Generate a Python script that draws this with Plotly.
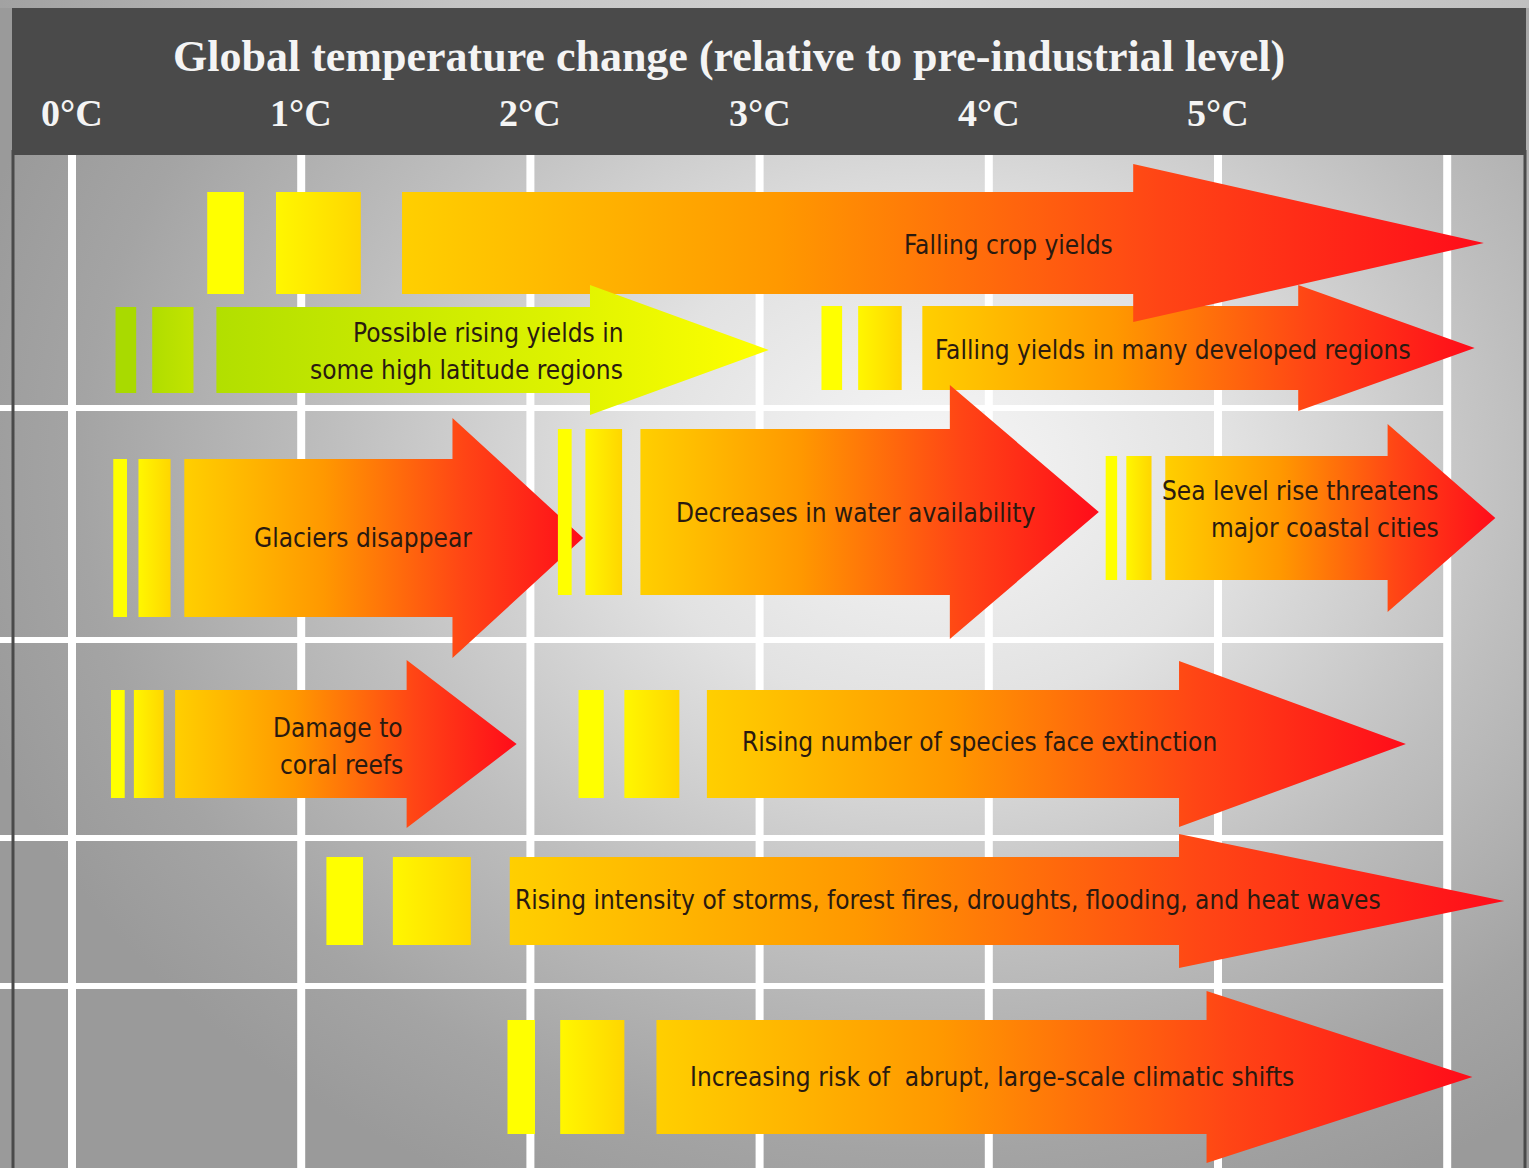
import plotly.graph_objects as go

# Horizontal scale: degrees of warming; 229.2 px per degree, 0 °C at x=72 px
PX_PER_DEG = 229.2
ZERO_PX = 72
W, H = 1529, 1168


def px2t(px):
    return (px - ZERO_PX) / PX_PER_DEG


# ---------------- data ----------------
title = "Global temperature change (relative to pre-industrial level)"
tick_temps = [0, 1, 2, 3, 4, 5]
tick_labels = ["0°C", "1°C", "2°C", "3°C", "4°C", "5°C"]
grid_temps = [0, 1, 2, 3, 4, 5, 6]

impacts = [
    "Falling crop yields",
    "Possible rising yields in<br>some high latitude regions",
    "Falling yields in many developed regions",
    "Glaciers disappear",
    "Decreases in water availability",
    "Sea level rise threatens<br>major coastal cities",
    "Damage to<br>coral reefs",
    "Rising number of species face extinction",
    "Rising intensity of storms, forest fires, droughts, flooding, and heat waves",
    "Increasing risk of  abrupt, large-scale climatic shifts",
]
# onset markers (°C): thin bar and wide bar before each arrow
mark1_start = [0.59, 0.19, 3.27, 0.18, 2.12, 4.51, 0.17, 2.21, 1.11, 1.90]
mark1_end = [0.75, 0.28, 3.36, 0.24, 2.18, 4.56, 0.23, 2.32, 1.27, 2.02]
mark2_start = [0.89, 0.35, 3.43, 0.29, 2.24, 4.60, 0.27, 2.41, 1.40, 2.13]
mark2_end = [1.26, 0.53, 3.62, 0.43, 2.40, 4.71, 0.40, 2.65, 1.74, 2.41]
# arrow extents (°C)
arrow_start = [1.44, 0.63, 3.71, 0.49, 2.48, 4.77, 0.45, 2.77, 1.91, 2.55]
head_start = [4.63, 2.26, 5.35, 1.66, 3.83, 5.74, 1.46, 4.83, 4.83, 4.95]
arrow_tip = [6.16, 3.04, 6.12, 2.23, 4.48, 6.21, 1.94, 5.82, 6.25, 6.11]
positive = [False, True, False, False, False, False, False, False, False, False]

# ---------------- layout of the rows (pixels) ----------------
row_center = [243, 350, 348, 538, 512, 518, 744, 744, 901, 1077]
body_half = [51, 43, 42, 79, 83, 62, 54, 54, 44, 57]
head_half = [79, 65, 63, 120, 127, 94, 84, 83, 67, 86]
# label placement: (x in °C, anchor, line centres in px)
label_x = [px2t(1008), px2t(625), px2t(933), px2t(363), px2t(855),
           px2t(1441), px2t(405), px2t(979), px2t(948), px2t(992)]
label_anchor = ["center", "right", "left", "center", "center",
                "right", "right", "center", "center", "center"]
label_lines_y = [[245], [333, 370], [350], [538], [513],
                 [491, 528], [728, 765], [742], [900], [1077]]
draw_order = [2, 0, 1, 3, 4, 5, 6, 7, 8, 9]
h_grid_y = [408, 640, 838, 986]

WARM_SCALE = [[0, "#ffcf00"], [0.35, "#ff9800"], [0.7, "#ff4515"], [1, "#ff0c1a"]]
GREEN_SCALE = [[0, "#b2df00"], [0.6, "#dcf200"], [1, "#ffff00"]]
MARK2_SCALE = [[0, "#fff700"], [1, "#ffd600"]]
GREEN_MARK2_SCALE = [[0, "#b0dd00"], [1, "#c2e400"]]
TEXT_FONT = "DejaVu Sans Condensed, Liberation Sans Narrow, Arial Narrow, sans-serif"
SERIF = "Liberation Serif, Times New Roman, serif"

fig = go.Figure()

# radial light background
cx, cy, rx, ry = 930, 470, 1000, 800
fig.add_trace(go.Scatter(
    x=[px2t(cx - rx), px2t(cx + rx), px2t(cx + rx), px2t(cx - rx), px2t(cx - rx)],
    y=[cy - ry, cy - ry, cy + ry, cy + ry, cy - ry],
    mode="lines", fill="toself", line=dict(width=0, color="rgba(0,0,0,0)"),
    fillgradient=dict(type="radial", colorscale=[
        [0, "#f7f7f7"], [0.3, "#e2e2e2"], [0.6, "#bebebe"], [0.85, "#a4a4a4"], [1, "#9a9a9a"]]),
    hoverinfo="skip", showlegend=False))

# pale strip along the top edge
fig.add_trace(go.Scatter(
    x=[px2t(0), px2t(W), px2t(W), px2t(0), px2t(0)], y=[0, 0, 8, 8, 0],
    mode="lines", fill="toself", line=dict(width=0, color="rgba(0,0,0,0)"),
    fillgradient=dict(type="horizontal", colorscale=[
        [0, "#a2a2a2"], [0.3, "#c4c4c4"], [0.6, "#d4d4d4"], [1, "#c0c0c0"]]),
    hoverinfo="skip", showlegend=False))

# white grid
for t in grid_temps:
    fig.add_trace(go.Scatter(x=[t, t], y=[155, H], mode="lines",
                             line=dict(color="#ffffff", width=8),
                             hoverinfo="skip", showlegend=False))
for yy in h_grid_y:
    fig.add_trace(go.Scatter(x=[px2t(0), 6], y=[yy, yy], mode="lines",
                             line=dict(color="#ffffff", width=6),
                             hoverinfo="skip", showlegend=False))


def add_poly(xs, ys, scale=None, color=None, start=None, stop=None):
    kw = dict(x=xs, y=ys, mode="lines", fill="toself",
              line=dict(width=0, color="rgba(0,0,0,0)"),
              hoverinfo="skip", showlegend=False)
    if scale is not None:
        kw["fillgradient"] = dict(type="horizontal", colorscale=scale,
                                  start=start, stop=stop)
    else:
        kw["fillcolor"] = color
    fig.add_trace(go.Scatter(**kw))


for i in draw_order:
    c, bh, hh = row_center[i], body_half[i], head_half[i]
    top, bot = c - bh, c + bh
    # thin onset bar
    add_poly([mark1_start[i], mark1_end[i], mark1_end[i], mark1_start[i], mark1_start[i]],
             [top, top, bot, bot, top],
             color="#a9da00" if positive[i] else "#ffff00")
    # wide onset bar
    add_poly([mark2_start[i], mark2_end[i], mark2_end[i], mark2_start[i], mark2_start[i]],
             [top, top, bot, bot, top],
             scale=GREEN_MARK2_SCALE if positive[i] else MARK2_SCALE,
             start=mark2_start[i], stop=mark2_end[i])
    # arrow
    xs = [arrow_start[i], head_start[i], head_start[i], arrow_tip[i],
          head_start[i], head_start[i], arrow_start[i], arrow_start[i]]
    ys = [top, top, c - hh, c, c + hh, bot, bot, top]
    add_poly(xs, ys, scale=GREEN_SCALE if positive[i] else WARM_SCALE,
             start=arrow_start[i], stop=arrow_tip[i])

shapes = [
    # header band
    dict(type="rect", xref="x", yref="y", x0=px2t(12), x1=px2t(1526), y0=8, y1=155,
         fillcolor="#4a4a4a", line=dict(width=0), layer="above"),
    # frame edges
    dict(type="line", xref="x", yref="y", x0=px2t(13), x1=px2t(13), y0=150, y1=H,
         line=dict(color="#4a4a4a", width=3), layer="above"),
    dict(type="line", xref="x", yref="y", x0=px2t(1525), x1=px2t(1525), y0=150, y1=H,
         line=dict(color="#4a4a4a", width=3), layer="above"),
]

annotations = [dict(x=px2t(729), y=56, xref="x", yref="y", text=title, showarrow=False,
                    xanchor="center", yanchor="middle",
                    font=dict(family=SERIF, size=44, color="#f4f4f4", weight="bold"))]
for t, lab in zip(tick_temps, tick_labels):
    annotations.append(dict(x=t, y=113, xref="x", yref="y", text=lab, showarrow=False,
                            xanchor="center", yanchor="middle",
                            font=dict(family=SERIF, size=38, color="#f4f4f4", weight="bold")))
for i, txt in enumerate(impacts):
    for line, yy in zip(txt.split("<br>"), label_lines_y[i]):
        annotations.append(dict(x=label_x[i], y=yy, xref="x", yref="y", text=line,
                                showarrow=False, xanchor=label_anchor[i], yanchor="middle",
                                font=dict(family=TEXT_FONT, size=26, color="#2a1a10")))

fig.update_layout(
    width=W, height=H, margin=dict(l=0, r=0, t=0, b=0, pad=0),
    paper_bgcolor="#a0a0a0", plot_bgcolor="#a0a0a0",
    xaxis=dict(range=[px2t(0), px2t(W)], visible=False, fixedrange=True),
    yaxis=dict(range=[H, 0], visible=False, fixedrange=True),
    shapes=shapes, annotations=annotations, showlegend=False,
)

fig.write_html("out.html", config={"displayModeBar": False, "responsive": False},
               post_script="document.body.style.margin='0';")
